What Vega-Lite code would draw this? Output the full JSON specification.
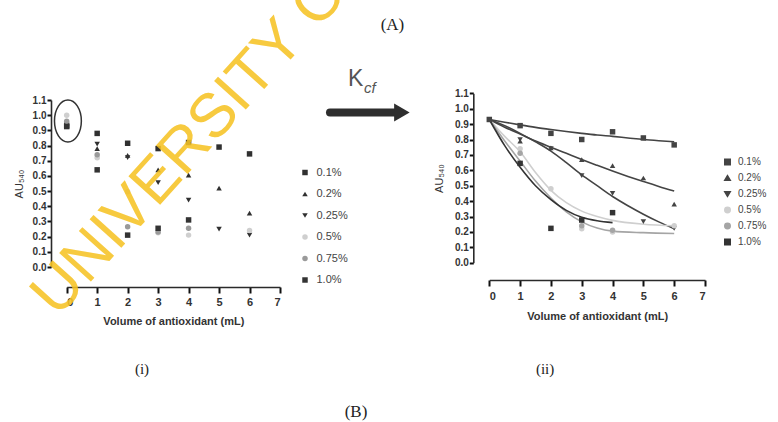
{
  "$schema": "https://vega.github.io/schema/vega-lite/v6.json",
  "width": 778,
  "height": 422,
  "autosize": {"type": "none"},
  "padding": 0,
  "background": "#ffffff",
  "config": {
    "view": {"stroke": null},
    "axis": {
      "grid": false,
      "domainColor": "#2a2a2a",
      "tickColor": "#111111",
      "domainWidth": 1.6,
      "tickWidth": 2,
      "tickOpacity": 1,
      "labelFont": "Liberation Sans",
      "titleFont": "Liberation Sans",
      "labelColor": "#333333",
      "titleColor": "#333333",
      "labelFontWeight": "bold",
      "titleFontWeight": "bold",
      "labelOverlap": false,
      "ticks": true
    },
    "axisX": {"tickSize": 6, "labelFontSize": 11, "titleFontSize": 11},
    "axisY": {"tickSize": 4, "labelPadding": 1, "labelFontSize": 10, "titleFontSize": 11, "titleFontWeight": "normal", "labelBound": false},
    "legend": {
      "labelFont": "Liberation Sans",
      "labelColor": "#444444",
      "padding": 0,
      "title": null
    }
  },
  "layer": [
    {
      "layer": [
        {
          "data": {"values": [
            {"series": "0.1%", "x": 0, "y": 0.93}, {"series": "0.1%", "x": 1, "y": 0.88}, {"series": "0.1%", "x": 2, "y": 0.815}, {"series": "0.1%", "x": 3, "y": 0.78}, {"series": "0.1%", "x": 4, "y": 0.82}, {"series": "0.1%", "x": 5, "y": 0.79}, {"series": "0.1%", "x": 6, "y": 0.745},
            {"series": "0.2%", "x": 0, "y": 0.95}, {"series": "0.2%", "x": 1, "y": 0.78}, {"series": "0.2%", "x": 2, "y": 0.735}, {"series": "0.2%", "x": 3, "y": 0.64}, {"series": "0.2%", "x": 4, "y": 0.605}, {"series": "0.2%", "x": 5, "y": 0.52}, {"series": "0.2%", "x": 6, "y": 0.355},
            {"series": "0.25%", "x": 0, "y": 0.94}, {"series": "0.25%", "x": 1, "y": 0.81}, {"series": "0.25%", "x": 2, "y": 0.72}, {"series": "0.25%", "x": 3, "y": 0.555}, {"series": "0.25%", "x": 4, "y": 0.44}, {"series": "0.25%", "x": 5, "y": 0.25}, {"series": "0.25%", "x": 6, "y": 0.21},
            {"series": "0.5%", "x": 0, "y": 1.0}, {"series": "0.5%", "x": 1, "y": 0.72}, {"series": "0.5%", "x": 2, "y": 0.495}, {"series": "0.5%", "x": 3, "y": 0.225}, {"series": "0.5%", "x": 4, "y": 0.21}, {"series": "0.5%", "x": 6, "y": 0.24},
            {"series": "0.75%", "x": 0, "y": 0.96}, {"series": "0.75%", "x": 1, "y": 0.74}, {"series": "0.75%", "x": 2, "y": 0.265}, {"series": "0.75%", "x": 3, "y": 0.23}, {"series": "0.75%", "x": 4, "y": 0.255},
            {"series": "1.0%", "x": 0, "y": 0.925}, {"series": "1.0%", "x": 1, "y": 0.64}, {"series": "1.0%", "x": 2, "y": 0.21}, {"series": "1.0%", "x": 3, "y": 0.255}, {"series": "1.0%", "x": 4, "y": 0.31}
          ]},
          "mark": {"type": "point", "filled": true, "opacity": 1},
          "encoding": {
            "x": {"field": "x", "type": "quantitative", "scale": {"domain": [0, 7], "range": [66.7, 280], "nice": false, "zero": false},
              "axis": {"orient": "bottom", "offset": -135, "values": [0, 1, 2, 3, 4, 5, 6, 7], "format": "d", "labelPadding": 3, "title": "Volume of antioxidant (mL)", "titlePadding": 8}},
            "y": {"field": "y", "type": "quantitative", "scale": {"domain": [0, 1.1], "range": [267, 100], "nice": false},
              "axis": {"orient": "left", "offset": -51, "values": [0, 0.1, 0.2, 0.3, 0.4, 0.5, 0.6, 0.7, 0.8, 0.9, 1.0, 1.1], "format": ".1f", "title": "AU₅₄₀", "titlePadding": 8}},
            "color": {"field": "series", "type": "nominal", "scale": {"domain": ["0.1%", "0.2%", "0.25%", "0.5%", "0.75%", "1.0%"], "range": ["#303030", "#303030", "#303030", "#cfcfcf", "#9a9a9a", "#333333"]},
              "legend": {"orient": "none", "legendX": 299.5, "legendY": 167, "labelFontSize": 11, "rowPadding": 9.5, "labelOffset": 6, "title": null}},
            "shape": {"field": "series", "type": "nominal", "scale": {"domain": ["0.1%", "0.2%", "0.25%", "0.5%", "0.75%", "1.0%"], "range": ["square", "triangle-up", "triangle-down", "circle", "circle", "square"]},
              "legend": {"orient": "none", "legendX": 299.5, "legendY": 167, "labelFontSize": 11, "rowPadding": 9.5, "labelOffset": 6, "title": null}},
            "size": {"field": "series", "type": "nominal", "scale": {"domain": ["0.1%", "0.2%", "0.25%", "0.5%", "0.75%", "1.0%"], "range": [30, 30, 32, 22, 25, 75]},
              "legend": {"orient": "none", "legendX": 299.5, "legendY": 167, "labelFontSize": 11, "rowPadding": 9.5, "labelOffset": 6, "title": null}}
          }
        },
        {
          "data": {"values": [{"x": 0.04, "y": 0.962}]},
          "mark": {"type": "point", "shape": "M 0 -1 A 0.64 1 0 1 1 0 1 A 0.64 1 0 1 1 0 -1 Z", "filled": false, "size": 1764, "stroke": "#333333", "strokeWidth": 1.5, "opacity": 1},
          "encoding": {
            "x": {"field": "x", "type": "quantitative", "scale": {"domain": [0, 7], "range": [66.7, 280], "nice": false, "zero": false},
              "axis": {"orient": "bottom", "offset": -135, "values": [0, 1, 2, 3, 4, 5, 6, 7], "format": "d", "labelPadding": 3, "title": "Volume of antioxidant (mL)", "titlePadding": 8}},
            "y": {"field": "y", "type": "quantitative", "scale": {"domain": [0, 1.1], "range": [267, 100], "nice": false},
              "axis": {"orient": "left", "offset": -51, "values": [0, 0.1, 0.2, 0.3, 0.4, 0.5, 0.6, 0.7, 0.8, 0.9, 1.0, 1.1], "format": ".1f", "title": "AU₅₄₀", "titlePadding": 8}}
          }
        },
        {
          "data": {"values": [{"x": 8.64, "x2": 10.8, "y": 1.018}]},
          "mark": {"type": "rule", "strokeWidth": 8, "color": "#2e2e2e", "strokeCap": "round"},
          "encoding": {
            "x": {"field": "x", "type": "quantitative", "scale": {"domain": [0, 7], "range": [66.7, 280], "nice": false, "zero": false},
              "axis": {"orient": "bottom", "offset": -135, "values": [0, 1, 2, 3, 4, 5, 6, 7], "format": "d", "labelPadding": 3, "title": "Volume of antioxidant (mL)", "titlePadding": 8}},
            "x2": {"field": "x2"},
            "y": {"field": "y", "type": "quantitative", "scale": {"domain": [0, 1.1], "range": [267, 100], "nice": false},
              "axis": {"orient": "left", "offset": -51, "values": [0, 0.1, 0.2, 0.3, 0.4, 0.5, 0.6, 0.7, 0.8, 0.9, 1.0, 1.1], "format": ".1f", "title": "AU₅₄₀", "titlePadding": 8}}
          }
        },
        {
          "data": {"values": [{"x": 11.0, "y": 1.018}]},
          "mark": {"type": "point", "shape": "triangle-right", "filled": true, "size": 320, "color": "#2e2e2e", "opacity": 1},
          "encoding": {
            "x": {"field": "x", "type": "quantitative", "scale": {"domain": [0, 7], "range": [66.7, 280], "nice": false, "zero": false},
              "axis": {"orient": "bottom", "offset": -135, "values": [0, 1, 2, 3, 4, 5, 6, 7], "format": "d", "labelPadding": 3, "title": "Volume of antioxidant (mL)", "titlePadding": 8}},
            "y": {"field": "y", "type": "quantitative", "scale": {"domain": [0, 1.1], "range": [267, 100], "nice": false},
              "axis": {"orient": "left", "offset": -51, "values": [0, 0.1, 0.2, 0.3, 0.4, 0.5, 0.6, 0.7, 0.8, 0.9, 1.0, 1.1], "format": ".1f", "title": "AU₅₄₀", "titlePadding": 8}}
          }
        },
        {
          "data": {"values": [{"label": "K", "x": 9.23, "y": 1.192}]},
          "mark": {"type": "text", "font": "Liberation Sans", "fontSize": 23, "color": "#555555", "align": "left", "baseline": "alphabetic"},
          "encoding": {
            "x": {"field": "x", "type": "quantitative", "scale": {"domain": [0, 7], "range": [66.7, 280], "nice": false, "zero": false},
              "axis": {"orient": "bottom", "offset": -135, "values": [0, 1, 2, 3, 4, 5, 6, 7], "format": "d", "labelPadding": 3, "title": "Volume of antioxidant (mL)", "titlePadding": 8}},
            "y": {"field": "y", "type": "quantitative", "scale": {"domain": [0, 1.1], "range": [267, 100], "nice": false},
              "axis": {"orient": "left", "offset": -51, "values": [0, 0.1, 0.2, 0.3, 0.4, 0.5, 0.6, 0.7, 0.8, 0.9, 1.0, 1.1], "format": ".1f", "title": "AU₅₄₀", "titlePadding": 8}},
            "text": {"field": "label"}
          }
        },
        {
          "data": {"values": [{"label": "cf", "x": 9.757, "y": 1.146}]},
          "mark": {"type": "text", "font": "Liberation Sans", "fontSize": 15, "fontStyle": "italic", "color": "#555555", "align": "left", "baseline": "alphabetic"},
          "encoding": {
            "x": {"field": "x", "type": "quantitative", "scale": {"domain": [0, 7], "range": [66.7, 280], "nice": false, "zero": false},
              "axis": {"orient": "bottom", "offset": -135, "values": [0, 1, 2, 3, 4, 5, 6, 7], "format": "d", "labelPadding": 3, "title": "Volume of antioxidant (mL)", "titlePadding": 8}},
            "y": {"field": "y", "type": "quantitative", "scale": {"domain": [0, 1.1], "range": [267, 100], "nice": false},
              "axis": {"orient": "left", "offset": -51, "values": [0, 0.1, 0.2, 0.3, 0.4, 0.5, 0.6, 0.7, 0.8, 0.9, 1.0, 1.1], "format": ".1f", "title": "AU₅₄₀", "titlePadding": 8}},
            "text": {"field": "label"}
          }
        },
        {
          "data": {"values": [{"label": "(A)", "x": 10.69, "y": 1.597}, {"label": "(B)", "x": 9.495, "y": -0.952}]},
          "mark": {"type": "text", "font": "Liberation Serif", "fontSize": 17, "color": "#222222", "align": "center", "baseline": "middle"},
          "encoding": {
            "x": {"field": "x", "type": "quantitative", "scale": {"domain": [0, 7], "range": [66.7, 280], "nice": false, "zero": false},
              "axis": {"orient": "bottom", "offset": -135, "values": [0, 1, 2, 3, 4, 5, 6, 7], "format": "d", "labelPadding": 3, "title": "Volume of antioxidant (mL)", "titlePadding": 8}},
            "y": {"field": "y", "type": "quantitative", "scale": {"domain": [0, 1.1], "range": [267, 100], "nice": false},
              "axis": {"orient": "left", "offset": -51, "values": [0, 0.1, 0.2, 0.3, 0.4, 0.5, 0.6, 0.7, 0.8, 0.9, 1.0, 1.1], "format": ".1f", "title": "AU₅₄₀", "titlePadding": 8}},
            "text": {"field": "label"}
          }
        },
        {
          "data": {"values": [{"label": "(i)", "x": 2.47, "y": -0.669}, {"label": "(ii)", "x": 15.7, "y": -0.669}]},
          "mark": {"type": "text", "font": "Liberation Serif", "fontSize": 15, "color": "#222222", "align": "center", "baseline": "middle"},
          "encoding": {
            "x": {"field": "x", "type": "quantitative", "scale": {"domain": [0, 7], "range": [66.7, 280], "nice": false, "zero": false},
              "axis": {"orient": "bottom", "offset": -135, "values": [0, 1, 2, 3, 4, 5, 6, 7], "format": "d", "labelPadding": 3, "title": "Volume of antioxidant (mL)", "titlePadding": 8}},
            "y": {"field": "y", "type": "quantitative", "scale": {"domain": [0, 1.1], "range": [267, 100], "nice": false},
              "axis": {"orient": "left", "offset": -51, "values": [0, 0.1, 0.2, 0.3, 0.4, 0.5, 0.6, 0.7, 0.8, 0.9, 1.0, 1.1], "format": ".1f", "title": "AU₅₄₀", "titlePadding": 8}},
            "text": {"field": "label"}
          }
        },
        {
          "data": {"values": [{"label": "UNIVERSITY OF IBADAN", "x": -0.3, "y": -0.34}]},
          "mark": {"type": "text", "font": "Liberation Sans", "fontSize": 62, "angle": -48, "color": "#f7c325", "opacity": 0.88, "align": "left", "baseline": "alphabetic"},
          "encoding": {
            "x": {"field": "x", "type": "quantitative", "scale": {"domain": [0, 7], "range": [66.7, 280], "nice": false, "zero": false},
              "axis": {"orient": "bottom", "offset": -135, "values": [0, 1, 2, 3, 4, 5, 6, 7], "format": "d", "labelPadding": 3, "title": "Volume of antioxidant (mL)", "titlePadding": 8}},
            "y": {"field": "y", "type": "quantitative", "scale": {"domain": [0, 1.1], "range": [267, 100], "nice": false},
              "axis": {"orient": "left", "offset": -51, "values": [0, 0.1, 0.2, 0.3, 0.4, 0.5, 0.6, 0.7, 0.8, 0.9, 1.0, 1.1], "format": ".1f", "title": "AU₅₄₀", "titlePadding": 8}},
            "text": {"field": "label"}
          }
        }
      ]
    },
    {
      "layer": [
        {
          "data": {"values": [
            {"series": "0.1%", "x": 0, "y": 0.93}, {"series": "0.1%", "x": 0.5, "y": 0.912}, {"series": "0.1%", "x": 1, "y": 0.895}, {"series": "0.1%", "x": 1.5, "y": 0.879}, {"series": "0.1%", "x": 2, "y": 0.865}, {"series": "0.1%", "x": 2.5, "y": 0.852}, {"series": "0.1%", "x": 3, "y": 0.84}, {"series": "0.1%", "x": 3.5, "y": 0.829}, {"series": "0.1%", "x": 4, "y": 0.82}, {"series": "0.1%", "x": 4.5, "y": 0.81}, {"series": "0.1%", "x": 5, "y": 0.8}, {"series": "0.1%", "x": 5.5, "y": 0.792}, {"series": "0.1%", "x": 6, "y": 0.785},
            {"series": "0.2%", "x": 0, "y": 0.93}, {"series": "0.2%", "x": 0.5, "y": 0.88}, {"series": "0.2%", "x": 1, "y": 0.835}, {"series": "0.2%", "x": 1.5, "y": 0.79}, {"series": "0.2%", "x": 2, "y": 0.75}, {"series": "0.2%", "x": 2.5, "y": 0.71}, {"series": "0.2%", "x": 3, "y": 0.67}, {"series": "0.2%", "x": 3.5, "y": 0.632}, {"series": "0.2%", "x": 4, "y": 0.595}, {"series": "0.2%", "x": 4.5, "y": 0.56}, {"series": "0.2%", "x": 5, "y": 0.527}, {"series": "0.2%", "x": 5.5, "y": 0.495}, {"series": "0.2%", "x": 6, "y": 0.465},
            {"series": "0.25%", "x": 0, "y": 0.93}, {"series": "0.25%", "x": 0.5, "y": 0.89}, {"series": "0.25%", "x": 1, "y": 0.84}, {"series": "0.25%", "x": 1.5, "y": 0.785}, {"series": "0.25%", "x": 2, "y": 0.725}, {"series": "0.25%", "x": 2.5, "y": 0.65}, {"series": "0.25%", "x": 3, "y": 0.57}, {"series": "0.25%", "x": 3.5, "y": 0.5}, {"series": "0.25%", "x": 4, "y": 0.43}, {"series": "0.25%", "x": 4.5, "y": 0.37}, {"series": "0.25%", "x": 5, "y": 0.315}, {"series": "0.25%", "x": 5.5, "y": 0.265}, {"series": "0.25%", "x": 6, "y": 0.22},
            {"series": "0.5%", "x": 0, "y": 0.93}, {"series": "0.5%", "x": 0.5, "y": 0.82}, {"series": "0.5%", "x": 1, "y": 0.72}, {"series": "0.5%", "x": 1.5, "y": 0.585}, {"series": "0.5%", "x": 2, "y": 0.47}, {"series": "0.5%", "x": 2.5, "y": 0.39}, {"series": "0.5%", "x": 3, "y": 0.335}, {"series": "0.5%", "x": 3.5, "y": 0.3}, {"series": "0.5%", "x": 4, "y": 0.275}, {"series": "0.5%", "x": 5, "y": 0.25}, {"series": "0.5%", "x": 6, "y": 0.24},
            {"series": "0.75%", "x": 0, "y": 0.93}, {"series": "0.75%", "x": 0.5, "y": 0.79}, {"series": "0.75%", "x": 1, "y": 0.66}, {"series": "0.75%", "x": 1.5, "y": 0.53}, {"series": "0.75%", "x": 2, "y": 0.42}, {"series": "0.75%", "x": 2.5, "y": 0.33}, {"series": "0.75%", "x": 3, "y": 0.265}, {"series": "0.75%", "x": 3.5, "y": 0.225}, {"series": "0.75%", "x": 4, "y": 0.205}, {"series": "0.75%", "x": 5, "y": 0.195}, {"series": "0.75%", "x": 6, "y": 0.19},
            {"series": "1.0%", "x": 0, "y": 0.93}, {"series": "1.0%", "x": 0.5, "y": 0.76}, {"series": "1.0%", "x": 1, "y": 0.62}, {"series": "1.0%", "x": 1.5, "y": 0.5}, {"series": "1.0%", "x": 2, "y": 0.41}, {"series": "1.0%", "x": 2.5, "y": 0.34}, {"series": "1.0%", "x": 3, "y": 0.295}, {"series": "1.0%", "x": 3.5, "y": 0.272}, {"series": "1.0%", "x": 4, "y": 0.26}
          ]},
          "mark": {"type": "line", "strokeWidth": 1.6, "interpolate": "monotone"},
          "encoding": {
            "x": {"field": "x", "type": "quantitative", "scale": {"domain": [0, 7], "range": [489.3, 705], "nice": false, "zero": false},
              "axis": {"orient": "bottom", "offset": -142, "values": [0, 1, 2, 3, 4, 5, 6, 7], "format": "d", "labelPadding": 4, "title": "Volume of antioxidant (mL)", "titlePadding": 9}},
            "y": {"field": "y", "type": "quantitative", "scale": {"domain": [0, 1.1], "range": [262.7, 93.3], "nice": false},
              "axis": {"orient": "left", "offset": -473.3, "values": [0, 0.1, 0.2, 0.3, 0.4, 0.5, 0.6, 0.7, 0.8, 0.9, 1.0, 1.1], "format": ".1f", "title": "AU₅₄₀", "titlePadding": 10}},
            "color": {"field": "series", "type": "nominal", "scale": {"domain": ["0.1%", "0.2%", "0.25%", "0.5%", "0.75%", "1.0%"], "range": ["#444444", "#444444", "#444444", "#cfcfcf", "#a5a5a5", "#333333"]},
              "legend": {"orient": "none", "legendX": 722.5, "legendY": 157, "labelFontSize": 10, "rowPadding": 4, "labelOffset": 5.5, "title": null}}
          }
        },
        {
          "data": {"values": [
            {"series": "0.1%", "x": 0, "y": 0.93}, {"series": "0.1%", "x": 1, "y": 0.89}, {"series": "0.1%", "x": 2, "y": 0.84}, {"series": "0.1%", "x": 3, "y": 0.8}, {"series": "0.1%", "x": 4, "y": 0.85}, {"series": "0.1%", "x": 5, "y": 0.81}, {"series": "0.1%", "x": 6, "y": 0.765},
            {"series": "0.2%", "x": 1, "y": 0.79}, {"series": "0.2%", "x": 2, "y": 0.745}, {"series": "0.2%", "x": 3, "y": 0.67}, {"series": "0.2%", "x": 4, "y": 0.63}, {"series": "0.2%", "x": 5, "y": 0.55}, {"series": "0.2%", "x": 6, "y": 0.38},
            {"series": "0.25%", "x": 1, "y": 0.8}, {"series": "0.25%", "x": 2, "y": 0.74}, {"series": "0.25%", "x": 3, "y": 0.565}, {"series": "0.25%", "x": 4, "y": 0.45}, {"series": "0.25%", "x": 5, "y": 0.266}, {"series": "0.25%", "x": 6, "y": 0.223},
            {"series": "0.5%", "x": 1, "y": 0.74}, {"series": "0.5%", "x": 2, "y": 0.48}, {"series": "0.5%", "x": 3, "y": 0.22}, {"series": "0.5%", "x": 4, "y": 0.2}, {"series": "0.5%", "x": 6, "y": 0.24},
            {"series": "0.75%", "x": 1, "y": 0.71}, {"series": "0.75%", "x": 3, "y": 0.24}, {"series": "0.75%", "x": 4, "y": 0.21},
            {"series": "1.0%", "x": 1, "y": 0.645}, {"series": "1.0%", "x": 2, "y": 0.223}, {"series": "1.0%", "x": 3, "y": 0.277}, {"series": "1.0%", "x": 4, "y": 0.325}
          ]},
          "mark": {"type": "point", "filled": true, "opacity": 1},
          "encoding": {
            "x": {"field": "x", "type": "quantitative", "scale": {"domain": [0, 7], "range": [489.3, 705], "nice": false, "zero": false},
              "axis": {"orient": "bottom", "offset": -142, "values": [0, 1, 2, 3, 4, 5, 6, 7], "format": "d", "labelPadding": 4, "title": "Volume of antioxidant (mL)", "titlePadding": 9}},
            "y": {"field": "y", "type": "quantitative", "scale": {"domain": [0, 1.1], "range": [262.7, 93.3], "nice": false},
              "axis": {"orient": "left", "offset": -473.3, "values": [0, 0.1, 0.2, 0.3, 0.4, 0.5, 0.6, 0.7, 0.8, 0.9, 1.0, 1.1], "format": ".1f", "title": "AU₅₄₀", "titlePadding": 10}},
            "color": {"field": "series", "type": "nominal", "scale": {"domain": ["0.1%", "0.2%", "0.25%", "0.5%", "0.75%", "1.0%"], "range": ["#444444", "#444444", "#444444", "#cfcfcf", "#a5a5a5", "#333333"]},
              "legend": {"orient": "none", "legendX": 722.5, "legendY": 157, "labelFontSize": 10, "rowPadding": 4, "labelOffset": 5.5, "title": null}},
            "shape": {"field": "series", "type": "nominal", "scale": {"domain": ["0.1%", "0.2%", "0.25%", "0.5%", "0.75%", "1.0%"], "range": ["square", "triangle-up", "triangle-down", "circle", "circle", "square"]},
              "legend": {"orient": "none", "legendX": 722.5, "legendY": 157, "labelFontSize": 10, "rowPadding": 4, "labelOffset": 5.5, "title": null}},
            "size": {"field": "series", "type": "nominal", "scale": {"domain": ["0.1%", "0.2%", "0.25%", "0.5%", "0.75%", "1.0%"], "range": [30, 30, 32, 22, 25, 75]},
              "legend": {"orient": "none", "legendX": 722.5, "legendY": 157, "labelFontSize": 10, "rowPadding": 4, "labelOffset": 5.5, "title": null}}
          }
        }
      ]
    }
  ],
  "resolve": {"scale": {"x": "independent", "y": "independent", "color": "independent", "shape": "independent", "size": "independent"}}
}
